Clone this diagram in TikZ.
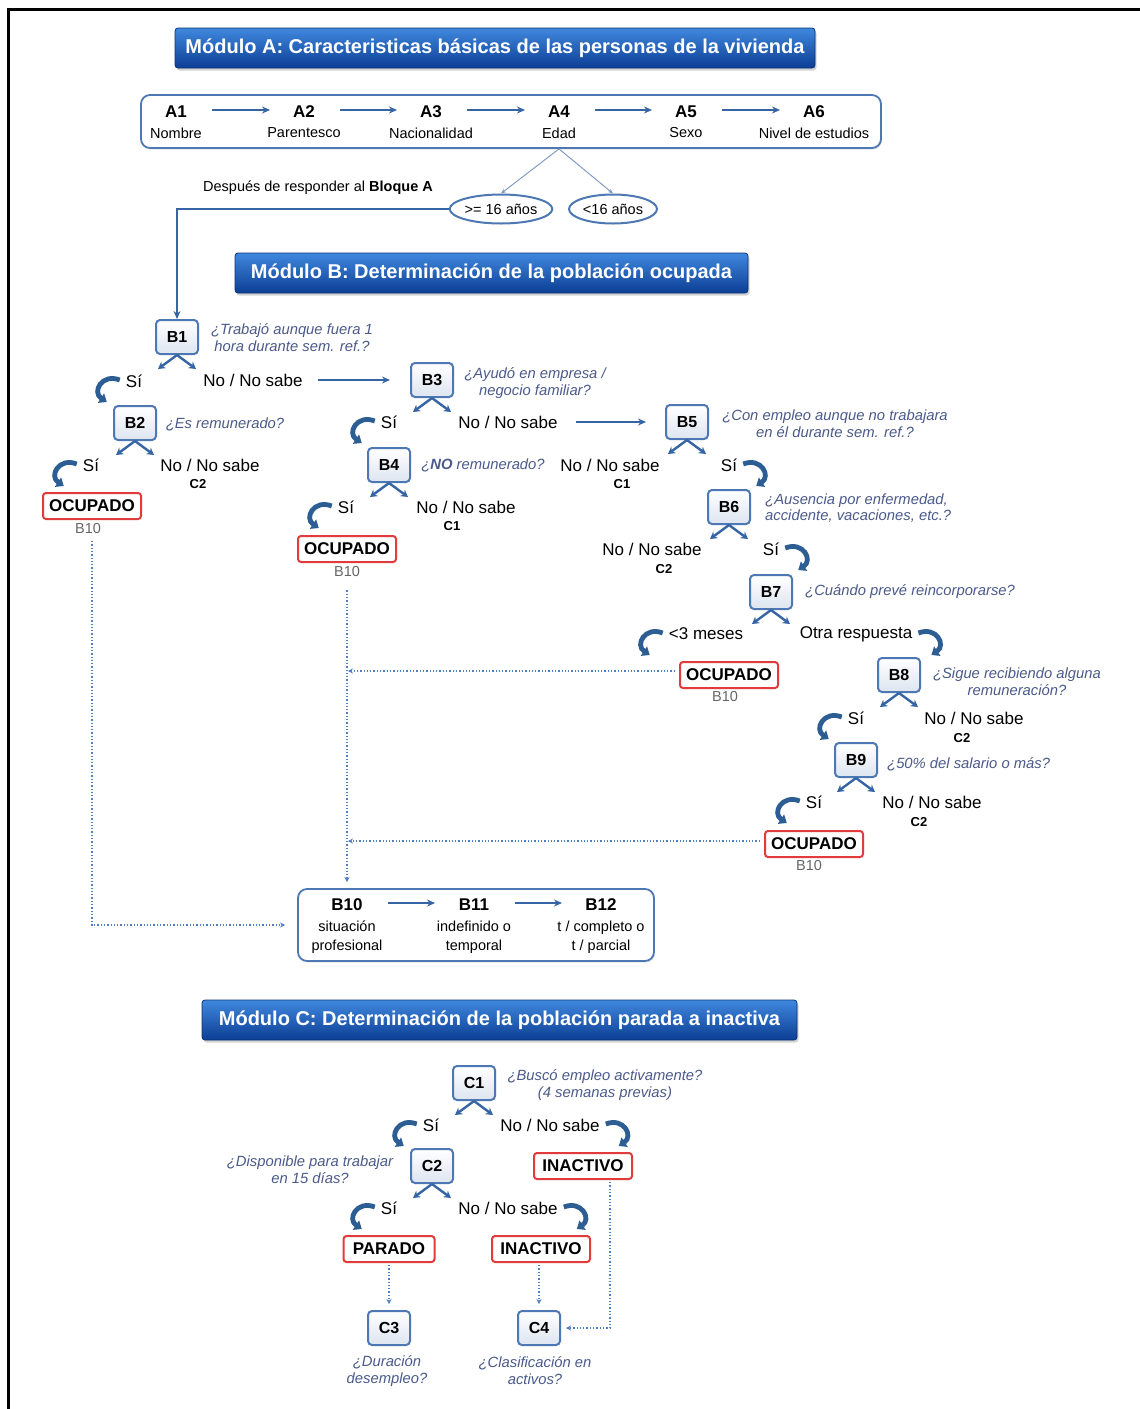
\documentclass[tikz,border=0pt]{standalone}
\usepackage{fontspec}
\setmainfont{Liberation Sans}
\usetikzlibrary{arrows.meta,shapes.geometric,shadows,calc}
\definecolor{titleTop}{HTML}{3F88DE}
\definecolor{titleBot}{HTML}{0C3E94}
\definecolor{titleEdge}{HTML}{0A3378}
\definecolor{boxBlue}{HTML}{4D78B4}
\definecolor{qBot}{HTML}{DDE5F0}
\definecolor{arrBlue}{HTML}{3565A5}
\definecolor{hookBlue}{HTML}{2C5D93}
\definecolor{qcol}{HTML}{4B5A8A}
\definecolor{resRed}{HTML}{E23B3B}
\definecolor{dotcol}{HTML}{4F7FC0}
\definecolor{greyTxt}{HTML}{666666}
\definecolor{thinBlue}{HTML}{7A96C0}
\newcommand\fsBig{\fontsize{17}{19}\selectfont}
\newcommand\fsTitle{\fontsize{20}{22}\selectfont}
\newcommand\fsSmall{\fontsize{14.5}{19}\selectfont}
\newcommand\fsQ{\fontsize{14.8}{16.8}\selectfont}
\newcommand\fsC{\fontsize{13}{15}\selectfont}
\newcommand\fsCode{\fontsize{16}{18}\selectfont}
\newcommand\hookL[1]{\draw[hook] ($(#1.west)+(-6,-1)$) .. controls +(-18,-7) and +(-15,-10) .. ($(#1.west)+(-19,21)$);}
\newcommand\hookR[1]{\draw[hook] ($(#1.east)+(6,-1)$) .. controls +(18,-7) and +(15,-10) .. ($(#1.east)+(19,21)$);}
\begin{document}
\begin{tikzpicture}[x=1pt,y=-1pt,
  title/.style={rounded corners=3pt, draw=titleEdge, line width=0.8pt, top color=titleTop, bottom color=titleBot, text=white, font=\fsTitle\bfseries, drop shadow={shadow xshift=1.5pt,shadow yshift=-2.5pt,opacity=0.35}, inner sep=0pt, minimum height=40pt},
  cont/.style={rounded corners=9pt, draw=boxBlue, line width=1.8pt, fill=white, drop shadow={shadow xshift=1pt,shadow yshift=-1.5pt,opacity=0.2}},
  qbox/.style={rounded corners=4pt, draw=boxBlue, line width=2pt, top color=white, bottom color=qBot, minimum width=42pt, minimum height=34pt, font=\fsCode\bfseries, inner sep=0pt},
  res/.style={rounded corners=3pt, draw=resRed, line width=2pt, fill=white, font=\fsBig\bfseries, minimum height=26pt, minimum width=98pt, inner sep=0pt},
  lab/.style={font=\fsBig, inner sep=0pt},
  code/.style={font=\fsBig\bfseries, inner sep=0pt},
  sub/.style={font=\fsSmall, inner sep=0pt, align=center},
  q/.style={font=\fsQ\itshape, text=qcol, inner sep=0pt, align=center},
  cc/.style={font=\fsC\bfseries, inner sep=0pt},
  gr/.style={font=\fsSmall, text=greyTxt, inner sep=0pt},
  oval/.style={ellipse, draw=boxBlue, line width=2pt, fill=white, minimum width=92pt, minimum height=29pt, inner sep=0pt, font=\fsSmall},
  arr/.style={draw=arrBlue, line width=2pt, -{Stealth[length=8pt,width=7pt]}},
  thinarr/.style={draw=thinBlue, line width=0.9pt, -{Stealth[length=5pt,width=4pt]}},
  fork/.style={draw=arrBlue, line width=2.4pt, -{Stealth[length=7pt,width=8pt]}},
  hook/.style={draw=hookBlue, line width=4.8pt, -{Triangle[length=7pt,width=11pt]}},
  dotarr/.style={draw=dotcol, line width=1.3pt, dotted, -{Stealth[length=5pt,width=5pt]}},
]
\fill[white] (0,0) rectangle (1140,1409);
\useasboundingbox (0,0) rectangle (1140,1409);
\draw[line width=3.5pt] (7,9.5) -- (1140,9.5);
\draw[line width=3pt] (8.5,8) -- (8.5,1409);

% ---------- Module A ----------
\node[title, minimum width=640pt] (tA) at (495,48) {Módulo A: Caracteristicas básicas de las personas de la vivienda};
\node[cont, minimum width=740pt, minimum height=53pt] (boxA) at (511,121.5) {};
\node[code] (a1) at (176,112) {A1}; \node[sub] (a1l) at (176,133) {Nombre};
\node[code] (a2) at (304,112) {A2}; \node[sub] (a2l) at (304,133) {Parentesco};
\node[code] (a3) at (431,112) {A3}; \node[sub] (a3l) at (431,133) {Nacionalidad};
\node[code] (a4) at (559,112) {A4}; \node[sub] (a4l) at (559,133) {Edad};
\node[code] (a5) at (686,112) {A5}; \node[sub] (a5l) at (686,133) {Sexo};
\node[code] (a6) at (814,112) {A6}; \node[sub] (a6l) at (814,133) {Nivel de estudios};
\foreach \i/\j in {a1/a2,a2/a3,a3/a4,a4/a5,a5/a6}
  \draw[arr, shorten <=36pt, shorten >=34pt] ($(\i.center)+(0,-2)$) -- ($(\j.center)+(0,-2)$);

\node[oval] (o1) at (501,209) {>= 16 años};
\node[oval, minimum width=88pt] (o2) at (613,209) {<16 años};
\draw[thinarr] (boxA.south -| a4) -- (o1.north);
\draw[thinarr] (boxA.south -| a4) -- (o2.north);
\node[sub] (dep) at (318,188) {Después de responder al \textbf{Bloque A}};

% ---------- Module B ----------
\node[title, minimum width=513pt] (tB) at (491.5,273) {Módulo B: Determinación de la población ocupada};

\node[qbox] (b1) at (177,337) {B1};
\node[q] (q1) at (292,338) {¿Trabajó aunque fuera 1\\hora durante sem. ref.?};
\draw[arr] (o1.west) -| (b1.north);
\node[lab] (s1) at (134,381) {Sí};
\node[lab] (n1) at (253,380) {No / No sabe};

\node[qbox] (b2) at (135,423) {B2};
\node[q] (q2) at (225,424) {¿Es remunerado?};
\node[lab] (s2) at (91,465) {Sí};
\node[lab] (n2) at (210,465) {No / No sabe};
\node[cc] (c2a) at (198,484) {C2};
\node[res] (oc1) at (92,506) {OCUPADO};
\node[gr] (r1) at (88,528) {B10};

\node[qbox] (b3) at (432,380) {B3};
\node[q] (q3) at (535,383) {¿Ayudó en empresa /\\negocio familiar?};
\draw[arr, shorten <=15pt, shorten >=20pt] (n1.east) -- (b3.west);
\node[lab] (s3) at (389,422) {Sí};
\node[lab] (n3) at (508,422) {No / No sabe};

\node[qbox] (b4) at (389,465) {B4};
\node[q] (q4) at (483,465) {¿\textbf{NO} remunerado?};
\node[lab] (s4) at (346,507) {Sí};
\node[lab] (n4) at (466,507) {No / No sabe};
\node[cc] (c1a) at (452,526) {C1};
\node[res] (oc2) at (347,549) {OCUPADO};
\node[gr] (r2) at (347,571) {B10};

\node[qbox] (b5) at (687,422) {B5};
\node[q] (q5) at (835,424) {¿Con empleo aunque no trabajara\\en él durante sem. ref.?};
\draw[arr, shorten <=18pt, shorten >=19pt] (n3.east) -- (b5.west);
\node[lab] (n5) at (610,465) {No / No sabe};
\node[cc] (c1b) at (622,484) {C1};
\node[lab] (s5) at (729,465) {Sí};

\node[qbox] (b6) at (729,507) {B6};
\node[q, anchor=west, align=left] (q6) at (765,508) {¿Ausencia por enfermedad,\\accidente, vacaciones, etc.?};
\node[lab] (n6) at (652,549) {No / No sabe};
\node[cc] (c2b) at (664,569) {C2};
\node[lab] (s6) at (771,549) {Sí};

\node[qbox] (b7) at (771,592) {B7};
\node[q, anchor=west] (q7) at (805,592) {¿Cuándo prevé reincorporarse?};
\node[lab] (n7) at (706,634) {<3 meses};
\node[lab] (s7) at (856,634) {Otra respuesta};
\node[res] (oc3) at (729,675) {OCUPADO};
\node[gr] (r3) at (725,696) {B10};

\node[qbox] (b8) at (899,675) {B8};
\node[q] (q8) at (1017,682) {¿Sigue recibiendo alguna\\remuneración?};
\node[lab] (s8) at (856,718) {Sí};
\node[lab] (n8) at (974,718) {No / No sabe};
\node[cc] (c2c) at (962,738) {C2};

\node[qbox] (b9) at (856,760) {B9};
\node[q, anchor=west] (q9) at (887,764) {¿50\% del salario o más?};
\node[lab] (s9) at (814,802) {Sí};
\node[lab] (n9) at (932,802) {No / No sabe};
\node[cc] (c2d) at (919,822) {C2};
\node[res] (oc4) at (814,844) {OCUPADO};
\node[gr] (r4) at (809,865) {B10};

% B10 container
\node[cont, minimum width=356pt, minimum height=72pt] (bc) at (476,925) {};
\node[code] (b10) at (347,905) {B10}; \node[sub] (b10l) at (347,937) {situación\\profesional};
\node[code] (b11) at (474,905) {B11}; \node[sub] (b11l) at (474,937) {indefinido o\\temporal};
\node[code] (b12) at (601,905) {B12}; \node[sub] (b12l) at (601,937) {t / completo o\\t / parcial};
\draw[arr, shorten <=41pt, shorten >=39pt] ($(b10.center)+(0,-2)$) -- ($(b11.center)+(0,-2)$);
\draw[arr, shorten <=41pt, shorten >=39pt] ($(b11.center)+(0,-2)$) -- ($(b12.center)+(0,-2)$);

% dotted connectors to B10
\draw[dotarr, shorten >=12pt] ($(oc1.south)+(0,21)$) |- (bc.west);
\draw[dotarr, shorten >=6pt] ($(r2.south)+(0,14)$) -- (bc.north -| r2);
\draw[dotarr, shorten <=4pt, shorten >=-2pt] ($(oc3.west)+(0,-4)$) -- ($(oc3.west -| r2)+(3,-4)$);
\draw[dotarr, shorten <=4pt, shorten >=-2pt] ($(oc4.west)+(0,-3)$) -- ($(oc4.west -| r2)+(3,-3)$);

% ---------- Module C ----------
\node[title, minimum width=595pt] (tC) at (499.5,1020) {Módulo C: Determinación de la población parada a inactiva};

\node[qbox] (c1) at (474,1083) {C1};
\node[q] (qc1) at (605,1085) {¿Buscó empleo activamente?\\(4 semanas previas)};
\node[lab] (sc1) at (431,1125) {Sí};
\node[lab] (nc1) at (550,1125) {No / No sabe};
\node[qbox] (c2) at (432,1166) {C2};
\node[q] (qc2) at (310,1170) {¿Disponible para trabajar\\en 15 días?};
\node[res] (in1) at (583,1166) {INACTIVO};
\node[lab] (sc2) at (389,1208) {Sí};
\node[lab] (nc2) at (508,1208) {No / No sabe};
\node[res, minimum width=91pt] (par) at (389,1249) {PARADO};
\node[res] (in2) at (541,1249) {INACTIVO};
\node[qbox] (c3) at (389,1328) {C3};
\node[qbox] (c4) at (539,1328) {C4};
\node[q] (qc3) at (387,1371) {¿Duración\\desempleo?};
\node[q] (qc4) at (535,1371) {¿Clasificación en\\activos?};
\draw[dotarr, shorten <=2pt, shorten >=6pt] (par.south) -- (c3.north);
\draw[dotarr, shorten <=2pt, shorten >=6pt] (in2.south -| c4) -- (c4.north);
\draw[dotarr, shorten <=2pt, shorten >=5pt] ($(in1.south)+(27,0)$) |- (c4.east);

% fork arrows under question boxes
\foreach \n in {b1,b2,b3,b4,b5,b6,b7,b8,b9,c1,c2} {
  \draw[fork] (\n.south) -- +(-19,14);
  \draw[fork] (\n.south) -- +(19,14);
}

% hooked arrows
\hookL{s1} \hookL{s2} \hookL{s3} \hookL{s4} \hookL{n7} \hookL{s8} \hookL{s9} \hookL{sc1} \hookL{sc2}
\hookR{s5} \hookR{s6} \hookR{s7} \hookR{nc1} \hookR{nc2}
\end{tikzpicture}
\end{document}
